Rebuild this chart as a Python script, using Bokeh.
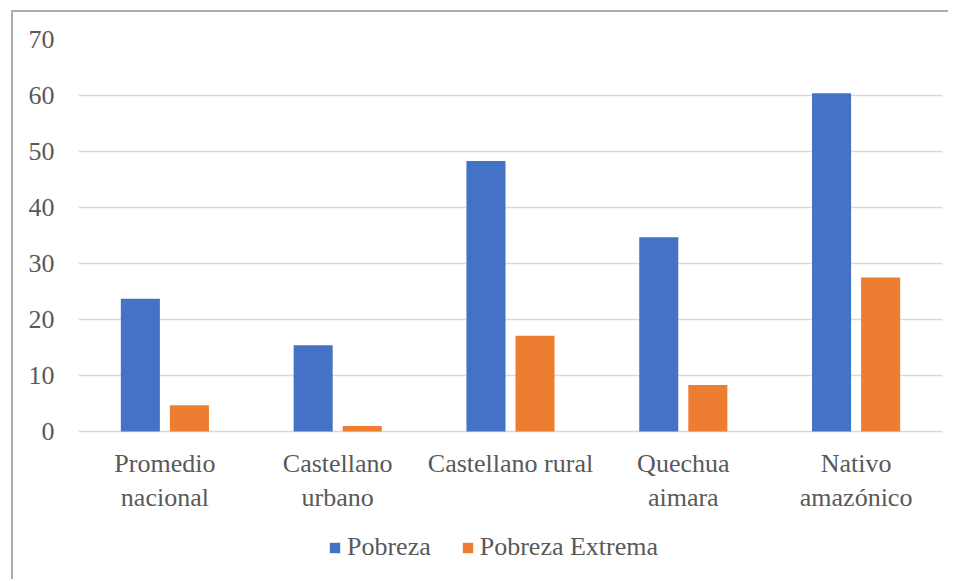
from bokeh.plotting import figure
from bokeh.models import FactorRange, Range1d, Legend, LegendItem, ColumnDataSource, FixedTicker
from bokeh.core.properties import value
from bokeh.transform import dodge
from bokeh.embed import file_html
from bokeh.resources import INLINE

categories = ["Promedio\nnacional", "Castellano\nurbano", "Castellano rural", "Quechua\naimara", "Nativo\namazónico"]
pobreza = [23.7, 15.4, 48.3, 34.7, 60.4]
pobreza_extrema = [4.7, 1.0, 17.1, 8.3, 27.5]
series_names = ["Pobreza", "Pobreza Extrema"]
y_ticks = [0, 10, 20, 30, 40, 50, 60, 70]

FONT = "Liberation Serif"
TXT = "#595959"
BLUE = "#4472C4"
ORANGE = "#ED7D31"

src = ColumnDataSource(dict(cat=categories, pob=pobreza, ext=pobreza_extrema))

# The frame extends below the zero line so that category labels and legend sit inside it
p = figure(x_range=FactorRange(*categories), y_range=Range1d(-25, 70),
           frame_width=864, frame_height=532, x_axis_location=None,
           min_border_left=65, min_border_right=6, min_border_top=27, min_border_bottom=8,
           output_backend="svg", toolbar_location=None)
p.styles = {"margin-left": "11px", "margin-top": "10px",
            "border-left": "2px solid #ababab", "border-top": "2px solid #ababab"}
p.outline_line_color = None
p.background_fill_color = "white"
p.border_fill_color = "white"

r1 = p.vbar(x=dodge("cat", -0.142, range=p.x_range), top="pob", width=0.226, source=src,
            fill_color=BLUE, line_color=None)
r2 = p.vbar(x=dodge("cat", 0.142, range=p.x_range), top="ext", width=0.226, source=src,
            fill_color=ORANGE, line_color=None)

# category labels under the zero line
p.text(x="cat", y=0, text="cat", source=src, y_offset=17,
       text_align="center", text_baseline="top", text_line_height=1.2,
       text_font=value(FONT), text_font_size="26px", text_color=TXT)

p.xgrid.grid_line_color = None
p.ygrid.grid_line_color = "#d9d9d9"
p.ygrid.grid_line_width = 1.5
p.yaxis.ticker = FixedTicker(ticks=y_ticks)

ax = p.yaxis
ax.axis_line_color = None
ax.major_tick_line_color = None
ax.minor_tick_line_color = None
ax.major_tick_out = 0
ax.major_tick_in = 0
ax.major_label_text_font = FONT
ax.major_label_text_font_size = "26px"
ax.major_label_text_color = TXT
ax.major_label_standoff = 24

legend = Legend(items=[LegendItem(label=series_names[0], renderers=[r1]),
                       LegendItem(label=series_names[1], renderers=[r2])],
                orientation="horizontal", location=(250, 9),
                glyph_width=13, glyph_height=13, label_standoff=6, spacing=30,
                padding=0, margin=0, border_line_color=None, background_fill_alpha=0,
                label_text_font=FONT, label_text_font_size="26px", label_text_color=TXT)
p.add_layout(legend, "center")

open("out.html", "w").write(file_html(p, INLINE))
